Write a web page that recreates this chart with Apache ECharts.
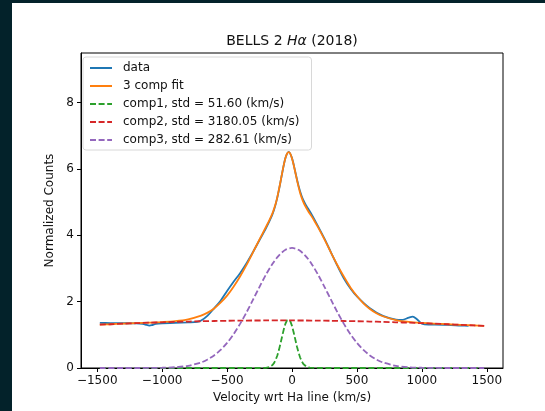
<!DOCTYPE html>
<html>
<head>
<meta charset="utf-8">
<script src="https://cdn.jsdelivr.net/npm/echarts@6/dist/echarts.min.js"></script>
<style>
  html, body { margin: 0; padding: 0; background: #03222a; width: 545px; height: 411px; overflow: hidden; }
  #panel { position: absolute; left: 12px; top: 3px; width: 533px; height: 408px; background: #ffffff; }
  #chart { position: absolute; left: 0; top: 0; width: 545px; height: 411px; }
</style>
</head>
<body>
<div id="panel"></div>
<div id="chart"></div>
<script>
// ---- data ----
const xTicks = [-1500, -1000, -500, 0, 500, 1000, 1500];
const yTicks = [0, 2, 4, 6, 8];

const dataX = [-1480,-1400,-1300,-1200,-1150,-1120,-1100,-1080,-1050,-1000,-900,-800,-730,-700,-650,-600,-550,-500,-450,-400,-350,-300,-250,-200,-150,-125,-100,-75,-50,-25,0,25,50,75,100,125,150,200,250,300,350,400,450,500,600,700,800,850,900,930,960,1000,1050,1100,1200,1300,1360];
const dataY = [1.36,1.355,1.35,1.345,1.33,1.30,1.28,1.29,1.33,1.35,1.36,1.375,1.39,1.43,1.58,1.80,2.03,2.32,2.60,2.86,3.16,3.50,3.86,4.22,4.64,4.95,5.38,5.89,6.34,6.52,6.33,5.92,5.50,5.18,4.96,4.80,4.64,4.28,3.90,3.49,3.08,2.70,2.40,2.16,1.80,1.57,1.46,1.45,1.52,1.55,1.48,1.34,1.31,1.31,1.30,1.28,1.27];

const fitX = [-1480,-1400,-1300,-1200,-1100,-1000,-900,-800,-700,-650,-600,-550,-500,-450,-400,-350,-300,-250,-200,-175,-150,-137.5,-125,-112.5,-100,-87.5,-75,-62.5,-50,-37.5,-25,-12.5,0,12.5,25,37.5,50,62.5,75,87.5,100,125,150,175,200,250,300,350,400,450,500,550,600,650,700,800,900,1000,1100,1200,1300,1400,1480];
const fitY = [1.31,1.32,1.336,1.352,1.368,1.386,1.413,1.467,1.578,1.67,1.797,1.97,2.181,2.45,2.759,3.11,3.492,3.88,4.26,4.45,4.67,4.81,4.97,5.16,5.40,5.64,5.90,6.14,6.34,6.47,6.51,6.46,6.32,6.13,5.91,5.68,5.47,5.28,5.13,5.00,4.90,4.73,4.58,4.42,4.25,3.88,3.48,3.10,2.75,2.43,2.17,1.95,1.78,1.65,1.56,1.445,1.389,1.359,1.338,1.32,1.302,1.284,1.269];

const comp1X = [-1480,-250,-200,-187.5,-175,-162.5,-150,-137.5,-125,-112.5,-100,-87.5,-75,-62.5,-50,-37.5,-28,-25,-12.5,0,12.5,25,37.5,50,62.5,75,87.5,100,112.5,125,137.5,150,175,250,1480];
const comp1Y = [0,0,0.006,0.012,0.025,0.049,0.090,0.155,0.251,0.385,0.555,0.756,0.971,1.176,1.342,1.445,1.47,1.469,1.405,1.269,1.080,0.867,0.657,0.469,0.316,0.200,0.120,0.068,0.036,0.018,0.009,0.004,0.001,0,0];

const comp2X = [-1480,-1400,-1300,-1200,-1100,-1000,-900,-800,-700,-600,-500,-400,-300,-200,-100,0,100,200,300,400,500,600,700,800,900,1000,1100,1200,1300,1400,1480];
const comp2Y = [1.310,1.320,1.336,1.352,1.366,1.379,1.390,1.401,1.410,1.417,1.424,1.429,1.432,1.434,1.435,1.434,1.432,1.429,1.424,1.417,1.410,1.401,1.390,1.379,1.366,1.352,1.336,1.320,1.302,1.284,1.269];

const comp3X = [-1480,-1300,-1200,-1100,-1000,-900,-800,-700,-650,-600,-550,-500,-450,-400,-350,-300,-250,-200,-150,-100,-50,0,50,100,150,200,250,300,350,400,450,500,550,600,650,700,800,900,1000,1100,1200,1300,1480];
const comp3Y = [0,0.0001,0.0004,0.0019,0.0069,0.023,0.066,0.168,0.257,0.380,0.545,0.757,1.019,1.330,1.681,2.060,2.448,2.818,3.144,3.400,3.564,3.62,3.564,3.400,3.144,2.818,2.448,2.060,1.681,1.330,1.019,0.757,0.545,0.380,0.257,0.168,0.066,0.023,0.0069,0.0019,0.0004,0.0001,0];

const seriesNames = ['data', '3 comp fit', 'comp1, std = 51.60 (km/s)', 'comp2, std = 3180.05 (km/s)', 'comp3, std = 282.61 (km/s)'];
const colors = ['#1f77b4', '#ff7f0e', '#2ca02c', '#d62728', '#9467bd'];

function pairs(xs, ys) { return xs.map((x, i) => [x, ys[i]]); }
const minus = v => String(v).replace('-', '\u2212');
const FONT = 'DejaVu Sans';

const chart = echarts.init(document.getElementById('chart'), null, { renderer: 'canvas' });
const lineW = 1.8;
const dash = [6, 2.6];
chart.setOption({
  animation: false,
  backgroundColor: 'transparent',
  textStyle: { fontFamily: FONT },
  graphic: [{
    type: 'text', x: 292, y: 41,
    style: {
      text: '{n|BELLS 2 }{i|H\u03b1}{n| (2018)}',
      textAlign: 'center', textVerticalAlign: 'middle',
      rich: {
        n: { fontFamily: FONT, fontSize: 14, fill: '#111' },
        i: { fontFamily: FONT, fontSize: 14, fontStyle: 'italic', fill: '#111' }
      }
    }
  }],
  grid: { left: 81, right: 42, top: 53, bottom: 43, show: true, borderColor: '#000', borderWidth: 1, backgroundColor: 'transparent' },
  legend: {
    orient: 'vertical', left: 83, top: 57,
    data: seriesNames,
    itemWidth: 22, itemHeight: 11, itemGap: 6,
    padding: [5, 12, 4, 6],
    borderColor: '#d8d8d8', borderWidth: 1, borderRadius: 3,
    backgroundColor: 'rgba(255,255,255,0.8)',
    itemStyle: { opacity: 0 },
    textStyle: { fontFamily: FONT, fontSize: 12, color: '#111', padding: [0, 0, 0, 6] },
    selectedMode: false
  },
  xAxis: {
    type: 'value', min: -1625, max: 1625,
    name: 'Velocity wrt Ha line (km/s)', nameLocation: 'middle', nameGap: 22,
    nameTextStyle: { fontFamily: FONT, fontSize: 12, color: '#111' },
    axisLine: { show: true, onZero: false, lineStyle: { color: '#000', width: 1 } },
    axisTick: { show: true, inside: false, length: 4, lineStyle: { color: '#000' }, customValues: xTicks },
    axisLabel: { fontFamily: FONT, fontSize: 12, color: '#111', margin: 7, customValues: xTicks, formatter: minus },
    splitLine: { show: false }
  },
  yAxis: {
    type: 'value', min: 0, max: 9.5,
    name: 'Normalized Counts', nameLocation: 'middle', nameGap: 18,
    nameTextStyle: { fontFamily: FONT, fontSize: 12, color: '#111' },
    axisLine: { show: true, onZero: false, lineStyle: { color: '#000', width: 1 } },
    axisTick: { show: true, inside: false, length: 4, lineStyle: { color: '#000' }, customValues: yTicks },
    axisLabel: { fontFamily: FONT, fontSize: 12, color: '#111', margin: 7, customValues: yTicks },
    splitLine: { show: false }
  },
  series: [
    { name: seriesNames[0], type: 'line', data: pairs(dataX, dataY), symbol: 'none', smooth: 0.3,
      lineStyle: { color: colors[0], width: lineW }, itemStyle: { color: colors[0] } },
    { name: seriesNames[1], type: 'line', data: pairs(fitX, fitY), symbol: 'none', smooth: 0.3,
      lineStyle: { color: colors[1], width: lineW }, itemStyle: { color: colors[1] } },
    { name: seriesNames[2], type: 'line', data: pairs(comp1X, comp1Y), symbol: 'none',
      lineStyle: { color: colors[2], width: lineW, type: dash }, itemStyle: { color: colors[2] } },
    { name: seriesNames[3], type: 'line', data: pairs(comp2X, comp2Y), symbol: 'none', smooth: 0.3,
      lineStyle: { color: colors[3], width: lineW, type: dash }, itemStyle: { color: colors[3] } },
    { name: seriesNames[4], type: 'line', data: pairs(comp3X, comp3Y), symbol: 'none', smooth: 0.3,
      lineStyle: { color: colors[4], width: lineW, type: dash }, itemStyle: { color: colors[4] } }
  ]
});
</script>
</body>
</html>
